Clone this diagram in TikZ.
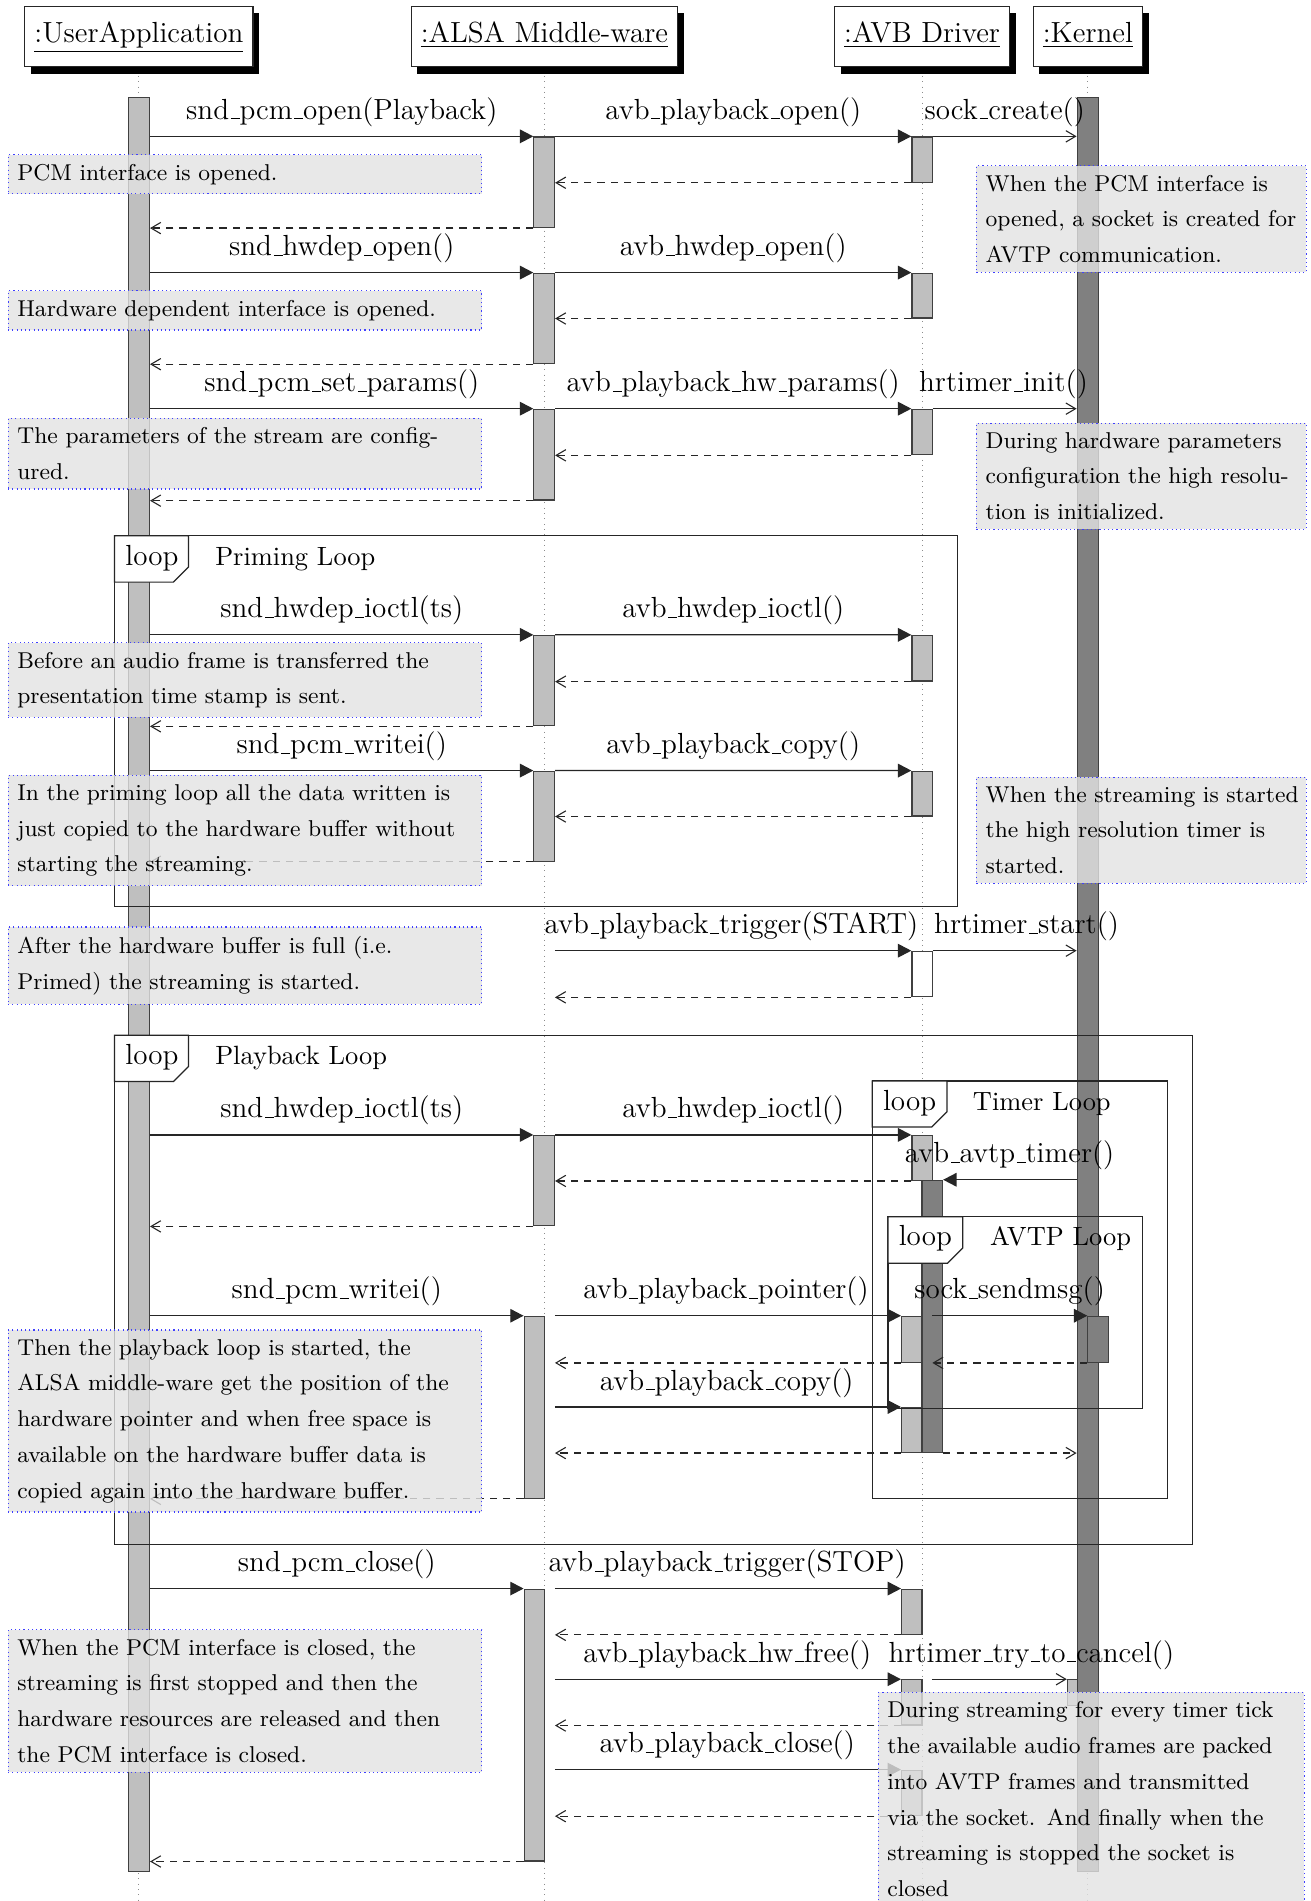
\documentclass[tikz,border=0pt]{standalone}
\usetikzlibrary{arrows.meta,fit,shadows}
\newcommand\sdmsgfont{\fontsize{12}{14}\selectfont}
\newcommand\sdframefont{\fontsize{10.9}{13}\selectfont}
\newcommand\sdnotefont{\fontsize{9.45}{14.75}\selectfont}
% rule-style underscore used in the function names
\newcommand\usc{\leavevmode\kern.06em\vbox{\hrule width.3em}}
% activation bar: style, name, corners
\newcommand\sdbar[6]{\node[#1,fit={(#3,#4)(#5,#6)}] (#2) {};}
% loop tag with cut corner: left, top, right, bottom
\newcommand\sdtag[4]{\draw[looptag] (#1,#2) -- (#3,#2) -- (#3,#4-12.5) -- (#3-12.5,#4) -- (#1,#4) -- cycle;}
\begin{document}
\begin{tikzpicture}[x=0.5pt,y=-0.5pt,
  lifeline/.style={draw=black!45,line width=0.4pt,dash pattern=on 0.4pt off 1.8pt},
  headbox/.style={draw=black!85,fill=white,line width=0.5pt,inner xsep=4pt,inner ysep=0pt,
    minimum height=24.9pt,text height=9.2pt,text depth=4.1pt,font=\sdmsgfont,
    drop shadow={shadow xshift=2.5pt,shadow yshift=-2.8pt,fill=black,opacity=1}},
  actbar/.style={draw=black!75,fill=black!25,line width=0.5pt,inner sep=0pt},
  darkbar/.style={actbar,fill=black!50},
  whitebar/.style={actbar,fill=white},
  callmsg/.style={draw=black!85,line width=0.5pt,-{Triangle[length=5.5pt,width=5.6pt]}},
  asyncmsg/.style={draw=black!85,line width=0.5pt,-{Straight Barb[length=4pt,width=4.7pt,line width=0.45pt]}},
  retmsg/.style={draw=black!85,line width=0.5pt,dash pattern=on 3pt off 2.5pt,
    -{Straight Barb[length=4pt,width=4.7pt,line width=0.45pt]}},
  msglabel/.style={font=\sdmsgfont,anchor=base,inner sep=0pt},
  tagtext/.style={font=\sdmsgfont,anchor=base west,inner sep=0pt},
  framelabel/.style={font=\sdframefont,anchor=base west,inner sep=0pt},
  loopframe/.style={draw=black!85,line width=0.5pt},
  looptag/.style={draw=black!85,line width=0.5pt,fill=white},
  note/.style={draw=blue!75,line width=0.45pt,dash pattern=on 0.45pt off 1.3pt,
    fill=black!11,fill opacity=0.8,text opacity=1,font=\sdnotefont,align=left,
    inner sep=3.8pt,anchor=north west},
  leftnote/.style={note,text width=187.8pt},
  rightnote/.style={note,text width=128.5pt}]

\useasboundingbox (0,0) rectangle (1081,1568.5);
\clip (0,0) rectangle (1081,1568.5);
\fill[white] (0,0) rectangle (1081,1568.5);
\coordinate (bot) at (0,1568.5);
\coordinate (alsaR) at (457.9,0);
\coordinate (avbR) at (768.9,0);

% ---------- lifeline heads ----------
\node[headbox] (hu) at (114.6,30.2) {\underline{:UserApplication}};
\node[headbox] (ha) at (449.2,30.2) {\underline{:ALSA Middle-ware}};
\node[headbox] (hv) at (760.8,30.2) {\underline{:AVB Driver}};
\node[headbox] (hk) at (897.6,30.2) {\underline{:Kernel}};

\draw[lifeline] ([yshift=-3.5pt]hu.south) -- (hu |- bot);
\draw[lifeline] ([yshift=-3.5pt]ha.south) -- (ha |- bot);
\draw[lifeline] ([yshift=-3.5pt]hv.south) -- (hv |- bot);
\draw[lifeline] ([yshift=-3.5pt]hk.south) -- (hk |- bot);

% ---------- activation bars ----------
\sdbar{actbar}{ua}{106.3}{80.4}{123.3}{1544}
\sdbar{actbar}{k9}{880.7}{1386}{897.6}{1407}
\sdbar{darkbar}{kb}{888.8}{80.4}{906.5}{1544}

\sdbar{actbar}{a1}{440.5}{113}{457.5}{187.7}
\sdbar{actbar}{v1}{752.4}{113}{769.3}{150.3}
\sdbar{actbar}{a2}{440.5}{225.4}{457.5}{300}
\sdbar{actbar}{v2}{752.4}{225.4}{769.3}{262.3}
\sdbar{actbar}{a3}{440.5}{337.7}{457.5}{412.6}
\sdbar{actbar}{v3}{752.4}{337.7}{769.3}{375.2}
\sdbar{actbar}{a4}{440.5}{524.3}{457.5}{598.8}
\sdbar{actbar}{v4}{752.4}{524.3}{769.3}{561.9}
\sdbar{actbar}{a5}{440.5}{636.3}{457.5}{710.5}
\sdbar{actbar}{v5}{752.4}{636.3}{769.3}{673.2}
\sdbar{whitebar}{v6}{752.4}{784.9}{769.3}{822.4}
\sdbar{actbar}{a7}{440.5}{936.9}{457.5}{1011.4}
\sdbar{actbar}{v7}{752.4}{936.9}{769.3}{973.9}
\sdbar{actbar}{a8}{432.5}{1086.1}{449.2}{1236.2}
\sdbar{actbar}{v8a}{743.9}{1086.1}{760.8}{1124}
\sdbar{actbar}{v8b}{743.9}{1161.4}{760.8}{1198.4}
\sdbar{darkbar}{t7}{760.8}{973.9}{777.7}{1198.4}
\sdbar{darkbar}{k8}{897.6}{1086.1}{914.9}{1124}
\sdbar{actbar}{a9}{432.5}{1311.2}{449.2}{1535.4}
\sdbar{actbar}{v9a}{743.9}{1311.2}{760.8}{1348.4}
\sdbar{actbar}{v9b}{743.9}{1386}{760.8}{1423.2}
\sdbar{actbar}{v9c}{743.9}{1460.6}{760.8}{1498}

% ---------- open / hwdep / params ----------
\draw[callmsg] (ua.east |- a1.north) -- (a1.north west);
\draw[callmsg] (a1.north east) -- (v1.north west);
\draw[asyncmsg] (v1.north east) -- (kb.west |- v1.north);
\draw[retmsg] (v1.south west) -- (a1.east |- v1.south);
\draw[retmsg] (a1.south west) -- (ua.east |- a1.south);
\node[msglabel] (l1a) at (282,98.5) {snd\usc pcm\usc open(Playback)};
\node[msglabel] (l1b) at (605,98.5) {avb\usc playback\usc open()};
\node[msglabel] (l1c) at (829,98.5) {sock\usc create()};

\draw[callmsg] (ua.east |- a2.north) -- (a2.north west);
\draw[callmsg] (a2.north east) -- (v2.north west);
\draw[retmsg] (v2.south west) -- (a2.east |- v2.south);
\draw[retmsg] (a2.south west) -- (ua.east |- a2.south);
\node[msglabel] (l2a) at (282,211) {snd\usc hwdep\usc open()};
\node[msglabel] (l2b) at (605,211) {avb\usc hwdep\usc open()};

\draw[callmsg] (ua.east |- a3.north) -- (a3.north west);
\draw[callmsg] (a3.north east) -- (v3.north west);
\draw[asyncmsg] (v3.north east) -- (kb.west |- v3.north);
\draw[retmsg] (v3.south west) -- (a3.east |- v3.south);
\draw[retmsg] (a3.south west) -- (ua.east |- a3.south);
\node[msglabel] (l3a) at (282,323.2) {snd\usc pcm\usc set\usc params()};
\node[msglabel] (l3b) at (605,323.2) {avb\usc playback\usc hw\usc params()};
\node[msglabel] (l3c) at (828,323.2) {hrtimer\usc init()};

% ---------- priming loop ----------
\draw[callmsg] (ua.east |- a4.north) -- (a4.north west);
\draw[callmsg] (a4.north east) -- (v4.north west);
\draw[retmsg] (v4.south west) -- (a4.east |- v4.south);
\draw[retmsg] (a4.south west) -- (ua.east |- a4.south);
\node[msglabel] (l4a) at (282,509.8) {snd\usc hwdep\usc ioctl(ts)};
\node[msglabel] (l4b) at (605,509.8) {avb\usc hwdep\usc ioctl()};

\draw[callmsg] (ua.east |- a5.north) -- (a5.north west);
\draw[callmsg] (a5.north east) -- (v5.north west);
\draw[retmsg] (v5.south west) -- (a5.east |- v5.south);
\draw[retmsg] (a5.south west) -- (ua.east |- a5.south);
\node[msglabel] (l5a) at (282,621.8) {snd\usc pcm\usc writei()};
\node[msglabel] (l5b) at (605,621.8) {avb\usc playback\usc copy()};

% ---------- trigger start ----------
\draw[callmsg] (alsaR |- v6.north) -- (v6.north west);
\draw[asyncmsg] (v6.north east) -- (kb.west |- v6.north);
\draw[retmsg] (v6.south west) -- (alsaR |- v6.south);
\node[msglabel] (l6a) at (603.5,770.4) {avb\usc playback\usc trigger(START)};
\node[msglabel] (l6b) at (847,770.4) {hrtimer\usc start()};

% ---------- playback loop ----------
\draw[callmsg] (ua.east |- a7.north) -- (a7.north west);
\draw[callmsg] (a7.north east) -- (v7.north west);
\draw[retmsg] (v7.south west) -- (a7.east |- v7.south);
\draw[retmsg] (a7.south west) -- (ua.east |- a7.south);
\draw[callmsg] (kb.west |- t7.north) -- (t7.north east);
\node[msglabel] (l7a) at (282,922.4) {snd\usc hwdep\usc ioctl(ts)};
\node[msglabel] (l7b) at (605,922.4) {avb\usc hwdep\usc ioctl()};
\node[msglabel] (l7c) at (833,959.4) {avb\usc avtp\usc timer()};

\draw[callmsg] (ua.east |- a8.north) -- (a8.north west);
\draw[callmsg] (alsaR |- v8a.north) -- (v8a.north west);
\draw[callmsg] (t7.center |- k8.north) -- (k8.north west);
\draw[retmsg] (k8.south west) -- (t7.center |- k8.south);
\draw[retmsg] (v8a.south west) -- (alsaR |- v8a.south);
\draw[callmsg] (alsaR |- v8b.north) -- (v8b.north west);
\draw[retmsg] (v8b.south west) -- (alsaR |- v8b.south);
\draw[retmsg] (t7.south east) -- (kb.west |- t7.south);
\draw[retmsg] (a8.south west) -- (ua.east |- a8.south);
\node[msglabel] (l8a) at (277.9,1071.6) {snd\usc pcm\usc writei()};
\node[msglabel] (l8b) at (599,1071.6) {avb\usc playback\usc pointer()};
\node[msglabel] (l8c) at (833,1071.6) {sock\usc sendmsg()};
\node[msglabel] (l8d) at (599.5,1146.9) {avb\usc playback\usc copy()};

% ---------- close ----------
\draw[callmsg] (ua.east |- a9.north) -- (a9.north west);
\draw[callmsg] (alsaR |- v9a.north) -- (v9a.north west);
\draw[retmsg] (v9a.south west) -- (alsaR |- v9a.south);
\draw[callmsg] (alsaR |- v9b.north) -- (v9b.north west);
\draw[asyncmsg] (avbR |- v9b.north) -- (k9.north west);
\draw[retmsg] (v9b.south west) -- (alsaR |- v9b.south);
\draw[callmsg] (alsaR |- v9c.north) -- (v9c.north west);
\draw[retmsg] (v9c.south west) -- (alsaR |- v9c.south);
\draw[retmsg] (a9.south west) -- (ua.east |- a9.south);
\node[msglabel] (l9a) at (277.9,1296.7) {snd\usc pcm\usc close()};
\node[msglabel] (l9b) at (600,1296.7) {avb\usc playback\usc trigger(STOP)};
\node[msglabel] (l9c) at (600,1371.5) {avb\usc playback\usc hw\usc free()};
\node[msglabel] (l9d) at (851,1371.5) {hrtimer\usc try\usc to\usc cancel()};
\node[msglabel] (l9e) at (600,1446.1) {avb\usc playback\usc close()};

% ---------- loop frames ----------
\draw[loopframe] (94.5,442) rectangle (790.1,748);
\sdtag{94.5}{442}{155.6}{480.3}
\node[tagtext] (fp1) at (103.1,466.5) {loop};
\node[framelabel] (fp2) at (177.2,466.5) {Priming Loop};

\draw[loopframe] (94.5,854.2) rectangle (984,1274.2);
\sdtag{94.5}{854.2}{155.6}{892.3}
\node[tagtext] (fb1) at (103.1,878.6) {loop};
\node[framelabel] (fb2) at (177.2,878.6) {Playback Loop};

\draw[loopframe] (719.6,892) rectangle (963.2,1236.5);
\sdtag{719.6}{892}{781.3}{929.8}
\node[tagtext] (ft1) at (728.2,916) {loop};
\node[framelabel] (ft2) at (802.4,916) {Timer Loop};

\draw[loopframe] (732.6,1004) rectangle (942.4,1162);
\sdtag{732.6}{1004}{794.3}{1042.3}
\node[tagtext] (fa1) at (741.2,1028) {loop};
\node[framelabel] (fa2) at (816.5,1028) {AVTP Loop};

% ---------- notes ----------
\node[leftnote] (n1) at (6.25,127.3) {PCM interface is opened.};
\node[leftnote] (n2) at (6.25,239.6) {Hardware dependent interface is opened.};
\node[leftnote] (n3) at (6.25,344.8) {The parameters of the stream are config-\\ured.};
\node[leftnote] (n4) at (6.25,529.8) {Before an audio frame is transferred the\\presentation time stamp is sent.};
\node[leftnote] (n5) at (6.25,639.3) {In the priming loop all the data written is\\just copied to the hardware buffer without\\starting the streaming.};
\node[leftnote] (n6) at (6.25,764.4) {After the hardware buffer is full (i.e.\\Primed) the streaming is started.};
\node[leftnote] (n7) at (6.25,1096.9) {Then the playback loop is started, the\\ALSA middle-ware get the position of the\\hardware pointer and when free space is\\available on the hardware buffer data is\\copied again into the hardware buffer.};
\node[leftnote] (n8) at (6.25,1344.3) {When the PCM interface is closed, the\\streaming is first stopped and then the\\hardware resources are released and then\\the PCM interface is closed.};

\node[rightnote] (r1) at (805.2,136.4) {When the PCM interface is\\opened, a socket is created for\\AVTP communication.};
\node[rightnote] (r2) at (805.2,348.6) {During hardware parameters\\configuration the high resolu-\\tion is initialized.};
\node[rightnote] (r3) at (805.2,640.7) {\mbox{When the streaming is started}\\the high resolution timer is\\started.};
\node[note,text width=168.2pt] (r4) at (724.1,1396) {During streaming for every timer tick\\the available audio frames are packed\\into AVTP frames and transmitted\\via the socket.  And finally when the\\streaming is stopped the socket is\\closed};
\end{tikzpicture}
\end{document}
